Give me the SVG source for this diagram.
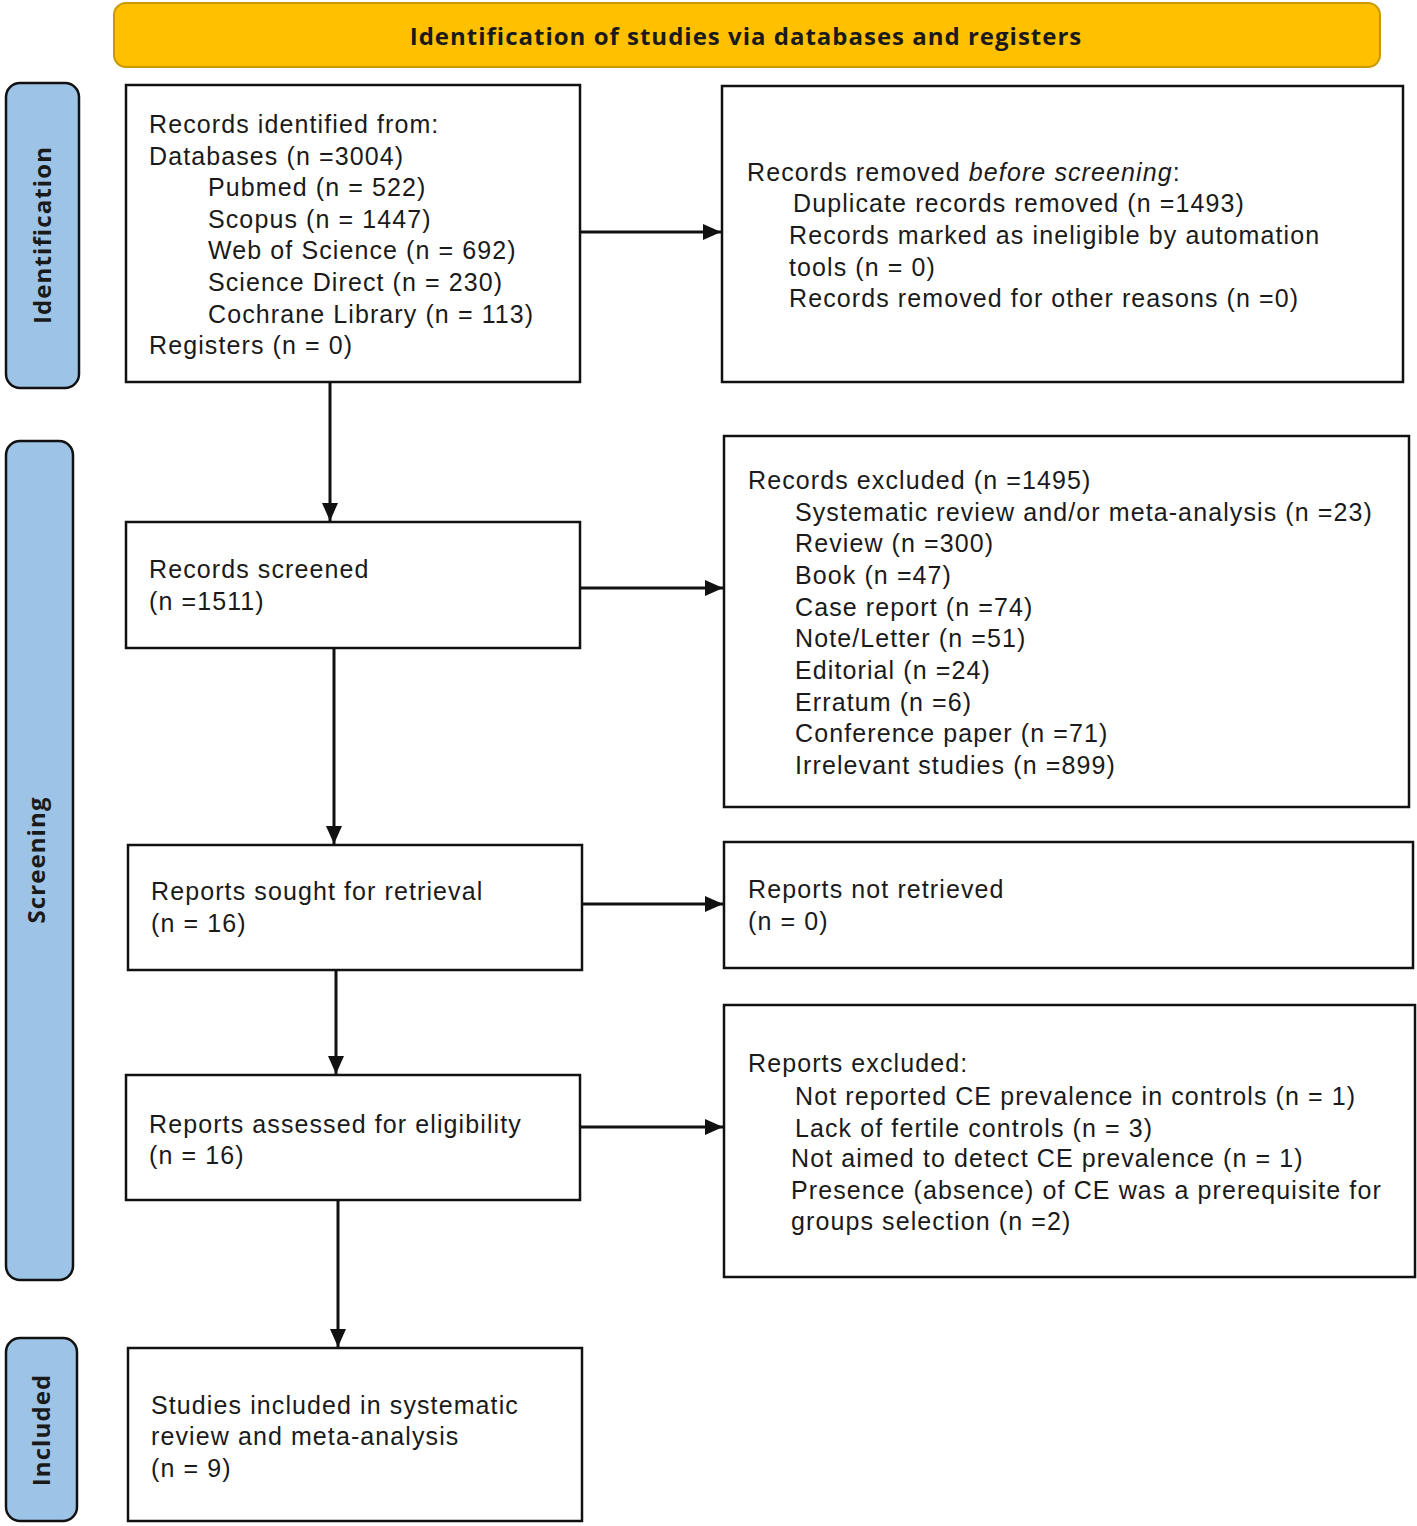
<svg xmlns="http://www.w3.org/2000/svg" width="1417" height="1526" viewBox="0 0 1417 1526">
<defs>
<style>
.box{fill:#fff;stroke:#111;stroke-width:2.5}
.side{fill:#9dc3e6;stroke:#111;stroke-width:2.5}
.banner{fill:#ffc000;stroke:#c99a00;stroke-width:2}
.t{font-family:"Liberation Sans",Arial,sans-serif;font-size:25px;letter-spacing:1.1px;fill:#1a1a1a}
.st{font-family:"Open Sans","Liberation Sans",sans-serif;font-weight:bold;font-size:24px;letter-spacing:1.1px;fill:#1a1a1a}
.bt{font-family:"Open Sans","Liberation Sans",sans-serif;font-weight:bold;font-size:24px;letter-spacing:1px;fill:#1a1a1a}
.c{stroke:#111;stroke-width:3;fill:none;marker-end:url(#ah)}
</style>
<marker id="ah" markerWidth="18" markerHeight="16" refX="18" refY="8" orient="auto" markerUnits="userSpaceOnUse">
<path d="M0,0 L18,8 L0,16 Z" fill="#111"/>
</marker>
</defs>
<rect width="1417" height="1526" fill="#fff"/>

<g id="banner">
<rect class="banner" x="114" y="3" width="1266" height="64" rx="12"/>
<text class="bt" x="746" y="45" text-anchor="middle">Identification of studies via databases and registers</text>
</g>

<g id="side-identification">
<rect class="side" x="6" y="83" width="73" height="305" rx="14"/>
<text class="st" transform="translate(51,235) rotate(-90)" text-anchor="middle">Identification</text>
</g>
<g id="side-screening">
<rect class="side" x="6" y="441" width="67" height="839" rx="14"/>
<text class="st" transform="translate(45,860) rotate(-90)" text-anchor="middle">Screening</text>
</g>
<g id="side-included">
<rect class="side" x="6" y="1338" width="71" height="183" rx="14"/>
<text class="st" transform="translate(50,1430) rotate(-90)" text-anchor="middle">Included</text>
</g>

<g id="connectors">
<line class="c" x1="330" y1="383" x2="330" y2="521"/>
<line class="c" x1="334" y1="649" x2="334" y2="844"/>
<line class="c" x1="336" y1="971" x2="336" y2="1074"/>
<line class="c" x1="338" y1="1201" x2="338" y2="1347"/>
<line class="c" x1="581" y1="232" x2="721" y2="232"/>
<line class="c" x1="581" y1="588" x2="723" y2="588"/>
<line class="c" x1="583" y1="904" x2="723" y2="904"/>
<line class="c" x1="581" y1="1127" x2="723" y2="1127"/>
</g>

<g id="records-identified">
<rect class="box" x="126" y="85" width="454" height="297"/>
<text class="t" x="149" y="133">Records identified from:</text>
<text class="t" x="149" y="165">Databases (n =3004)</text>
<text class="t" x="208" y="196">Pubmed (n = 522)</text>
<text class="t" x="208" y="228">Scopus (n = 1447)</text>
<text class="t" x="208" y="259">Web of Science (n = 692)</text>
<text class="t" x="208" y="291">Science Direct (n = 230)</text>
<text class="t" x="208" y="323">Cochrane Library (n = 113)</text>
<text class="t" x="149" y="354">Registers (n = 0)</text>
</g>

<g id="records-removed">
<rect class="box" x="722" y="86" width="681" height="296"/>
<text class="t" x="747" y="181">Records removed <tspan font-style="italic">before screening</tspan>:</text>
<text class="t" x="793" y="212">Duplicate records removed (n =1493)</text>
<text class="t" x="789" y="244">Records marked as ineligible by automation</text>
<text class="t" x="789" y="276">tools (n = 0)</text>
<text class="t" x="789" y="307">Records removed for other reasons (n =0)</text>
</g>

<g id="records-screened">
<rect class="box" x="126" y="522" width="454" height="126"/>
<text class="t" x="149" y="578">Records screened</text>
<text class="t" x="149" y="610">(n =1511)</text>
</g>

<g id="records-excluded">
<rect class="box" x="724" y="436" width="685" height="371"/>
<text class="t" x="748" y="489">Records excluded (n =1495)</text>
<text class="t" x="795" y="521">Systematic review and/or meta-analysis (n =23)</text>
<text class="t" x="795" y="552">Review (n =300)</text>
<text class="t" x="795" y="584">Book (n =47)</text>
<text class="t" x="795" y="616">Case report (n =74)</text>
<text class="t" x="795" y="647">Note/Letter (n =51)</text>
<text class="t" x="795" y="679">Editorial (n =24)</text>
<text class="t" x="795" y="711">Erratum (n =6)</text>
<text class="t" x="795" y="742">Conference paper (n =71)</text>
<text class="t" x="795" y="774">Irrelevant studies (n =899)</text>
</g>

<g id="reports-sought">
<rect class="box" x="128" y="845" width="454" height="125"/>
<text class="t" x="151" y="900">Reports sought for retrieval</text>
<text class="t" x="151" y="932">(n = 16)</text>
</g>

<g id="reports-not-retrieved">
<rect class="box" x="724" y="842" width="689" height="126"/>
<text class="t" x="748" y="898">Reports not retrieved</text>
<text class="t" x="748" y="930">(n = 0)</text>
</g>

<g id="reports-assessed">
<rect class="box" x="126" y="1075" width="454" height="125"/>
<text class="t" x="149" y="1133">Reports assessed for eligibility</text>
<text class="t" x="149" y="1164">(n = 16)</text>
</g>

<g id="reports-excluded">
<rect class="box" x="724" y="1005" width="691" height="272"/>
<text class="t" x="748" y="1072">Reports excluded:</text>
<text class="t" x="795" y="1105">Not reported CE prevalence in controls (n = 1)</text>
<text class="t" x="795" y="1137">Lack of fertile controls (n = 3)</text>
<text class="t" x="791" y="1167">Not aimed to detect CE prevalence (n = 1)</text>
<text class="t" x="791" y="1199">Presence (absence) of CE was a prerequisite for</text>
<text class="t" x="791" y="1230">groups selection (n =2)</text>
</g>

<g id="studies-included">
<rect class="box" x="128" y="1348" width="454" height="173"/>
<text class="t" x="151" y="1414">Studies included in systematic</text>
<text class="t" x="151" y="1445">review and meta-analysis</text>
<text class="t" x="151" y="1477">(n = 9)</text>
</g>
</svg>
